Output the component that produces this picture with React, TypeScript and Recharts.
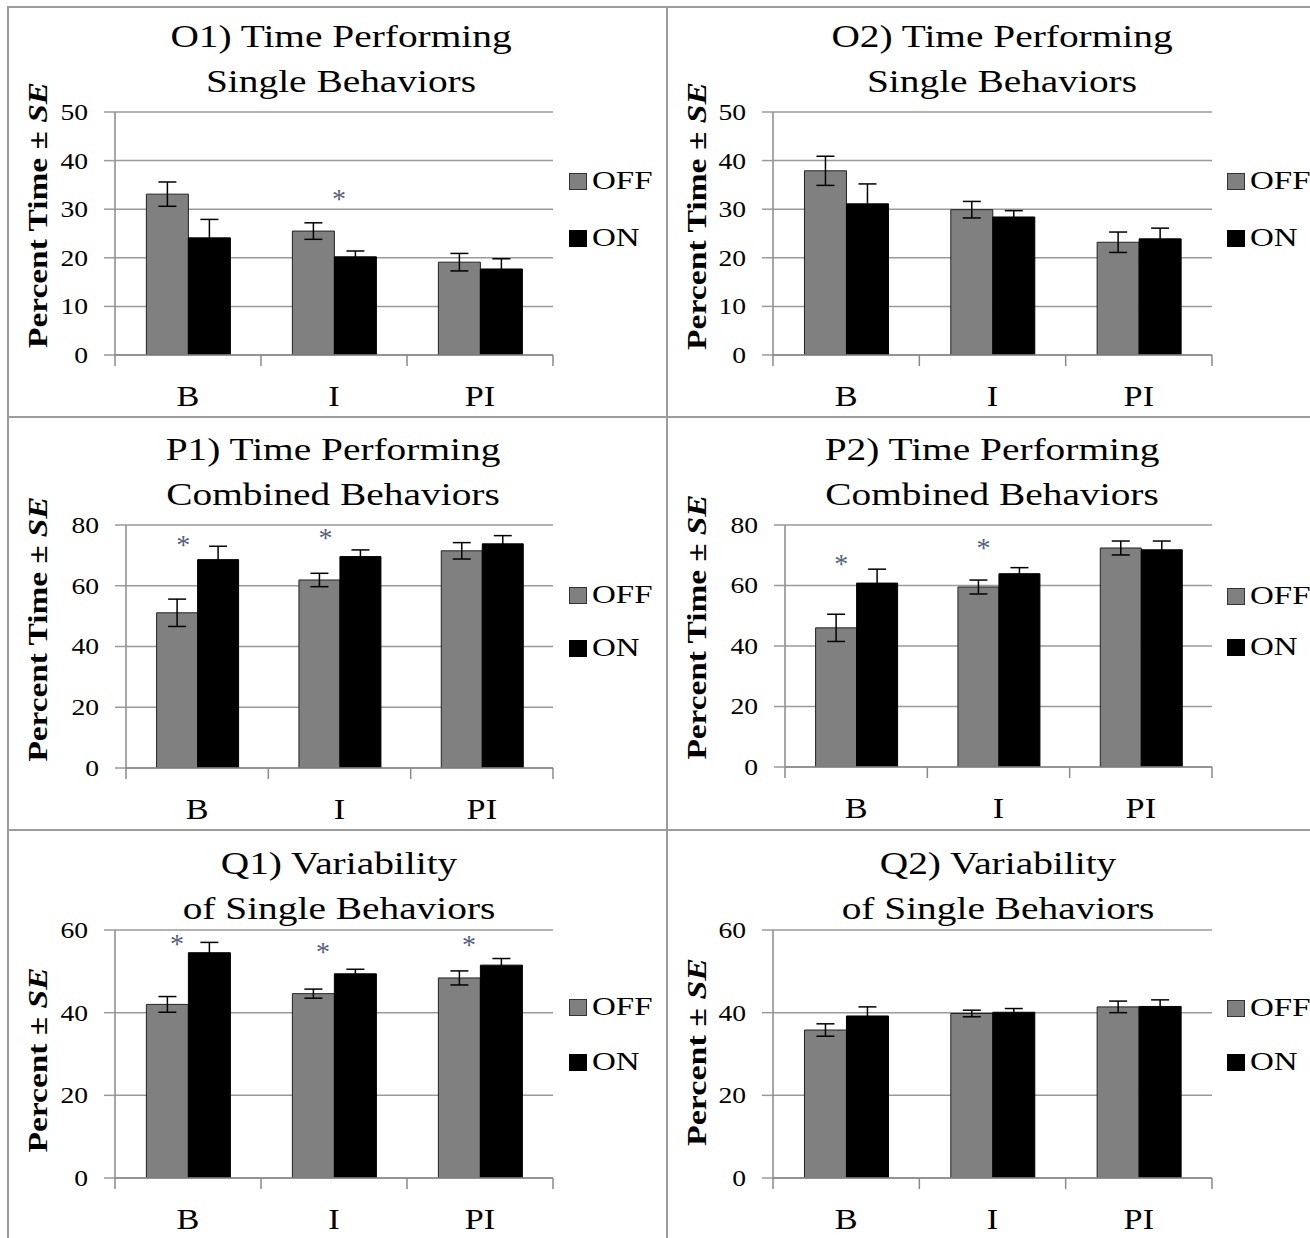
import React from 'react';
import { BarChart, Bar, XAxis, YAxis, CartesianGrid, ErrorBar, Legend, ReferenceDot } from 'recharts';

const FONT = '"Liberation Serif", "Times New Roman", Times, serif';

// ---------- data ----------
const categories = ['B', 'I', 'PI'];
const seriesNames = ['OFF', 'ON'];
const seriesColors = ['#808080', '#000000'];

const o1OffMean = [33.1, 25.5, 19.1];
const o1OffSE = [2.5, 1.7, 1.8];
const o1OnMean = [24.1, 20.2, 17.7];
const o1OnSE = [3.8, 1.2, 2.1];

const o2OffMean = [37.9, 29.9, 23.2];
const o2OffSE = [3.0, 1.7, 2.1];
const o2OnMean = [31.1, 28.4, 23.9];
const o2OnSE = [4.1, 1.3, 2.2];

const p1OffMean = [51.1, 61.9, 71.5];
const p1OffSE = [4.5, 2.2, 2.7];
const p1OnMean = [68.6, 69.6, 73.8];
const p1OnSE = [4.4, 2.2, 2.7];

const p2OffMean = [46.0, 59.5, 72.4];
const p2OffSE = [4.5, 2.3, 2.3];
const p2OnMean = [60.8, 63.9, 71.8];
const p2OnSE = [4.6, 2.0, 2.9];

const q1OffMean = [42.0, 44.6, 48.4];
const q1OffSE = [1.9, 1.1, 1.7];
const q1OnMean = [54.5, 49.4, 51.5];
const q1OnSE = [2.5, 1.1, 1.6];

const q2OffMean = [35.8, 39.8, 41.4];
const q2OffSE = [1.5, 0.8, 1.4];
const q2OnMean = [39.2, 40.1, 41.5];
const q2OnSE = [2.2, 0.9, 1.6];

const o1StarCats = ['I'];
const o1StarY = [32.9];
const p1StarCats = ['B', 'I'];
const p1StarY = [74.7, 77.0];
const p2StarCats = ['B', 'I'];
const p2StarY = [68.5, 73.7];
const q1StarCats = ['B', 'I', 'PI'];
const q1StarY = [57.7, 55.7, 57.3];
const noStarCats: string[] = [];
const noStarY: number[] = [];

const ticks50 = [0, 10, 20, 30, 40, 50];
const ticks80 = [0, 20, 40, 60, 80];
const ticks60 = [0, 20, 40, 60];

const titleO1 = ['O1) Time Performing', 'Single Behaviors'];
const titleO2 = ['O2) Time Performing', 'Single Behaviors'];
const titleP1 = ['P1) Time Performing', 'Combined Behaviors'];
const titleP2 = ['P2) Time Performing', 'Combined Behaviors'];
const titleQ1 = ['Q1) Variability', 'of Single Behaviors'];
const titleQ2 = ['Q2) Variability', 'of Single Behaviors'];

const yLabelTime = 'Percent Time \u00B1 ';
const yLabelPct = 'Percent \u00B1 ';
const yLabelSE = 'SE';

const buildRows = (offM: number[], offS: number[], onM: number[], onS: number[]) =>
  categories.map((c, i) => ({ cat: c, off: offM[i], offErr: offS[i], on: onM[i], onErr: onS[i] }));

// ---------- layout ----------
type Geo = {
  left: number; top: number; w: number; h: number;
  plotLeft: number; plotRight: number; plotTop: number; plotBottom: number;
  titleCx: number; titleBase: number;
  ylx: number; yly: number; ylLen: number;
  legX: number; legY: number; legGap: number; starDx: number;
};

const G: Record<string, Geo> = {
  O1: { left: 10, top: 9, w: 655, h: 406, plotLeft: 115, plotRight: 553, plotTop: 112, plotBottom: 355, titleCx: 341, titleBase: 47, ylx: 37, yly: 215, ylLen: 266, legX: 569, legY: 181, legGap: 57, starDx: 5 },
  O2: { left: 669, top: 9, w: 641, h: 406, plotLeft: 773, plotRight: 1212, plotTop: 112, plotBottom: 355, titleCx: 1002, titleBase: 47, ylx: 696, yly: 216, ylLen: 268, legX: 1227, legY: 181, legGap: 57, starDx: 0 },
  P1: { left: 10, top: 419, w: 655, h: 409, plotLeft: 126, plotRight: 553, plotTop: 525, plotBottom: 768, titleCx: 333, titleBase: 460, ylx: 37, yly: 629, ylLen: 265, legX: 569, legY: 595, legGap: 53, starDx: -14 },
  P2: { left: 669, top: 419, w: 641, h: 409, plotLeft: 785, plotRight: 1212, plotTop: 525, plotBottom: 767, titleCx: 992, titleBase: 460, ylx: 696, yly: 627, ylLen: 265, legX: 1227, legY: 596, legGap: 51, starDx: -15 },
  Q1: { left: 10, top: 832, w: 655, h: 406, plotLeft: 115, plotRight: 553, plotTop: 930, plotBottom: 1178, titleCx: 339, titleBase: 874, ylx: 37, yly: 1060, ylLen: 185, legX: 569, legY: 1007, legGap: 55, starDx: -11 },
  Q2: { left: 669, top: 832, w: 641, h: 406, plotLeft: 773, plotRight: 1212, plotTop: 930, plotBottom: 1178, titleCx: 998, titleBase: 874, ylx: 696, yly: 1052, ylLen: 188, legX: 1227, legY: 1008, legGap: 54, starDx: 0 },
};

const GRID = '#9a9a9a';
const AXIS = '#8a8a8a';
const STAR = '#52607e';

const YTick = (props: any) => {
  const { x, y, payload } = props;
  return (
    <text x={x} y={y + 8} textAnchor="end" fontFamily={FONT} fontSize={23} fill="#000"
      transform={`translate(${x} ${y}) scale(1.2 1) translate(${-x} ${-y})`}>
      {payload.value}
    </text>
  );
};

// category label + category-boundary tick marks (band width taken from the axis itself)
const XTick = (props: any) => {
  const { x, y, payload, width, visibleTicksCount, index } = props;
  const band = Number(width) / Number(visibleTicksCount || 1);
  const ok = Number.isFinite(band);
  return (
    <g>
      {ok && (
        <line x1={x - band / 2} x2={x - band / 2} y1={y} y2={y + 11} stroke={AXIS} strokeWidth={1.5} />
      )}
      {ok && index === visibleTicksCount - 1 && (
        <line x1={x + band / 2} x2={x + band / 2} y1={y} y2={y + 11} stroke={AXIS} strokeWidth={1.5} />
      )}
      <text x={x} y={y + 51} textAnchor="middle" fontFamily={FONT} fontSize={29} fill="#000"
        transform={`translate(${x} ${y}) scale(1.18 1) translate(${-x} ${-y})`}>
        {payload.value}
      </text>
    </g>
  );
};

const YLabel = (props: any) => {
  const { px, py, len, text } = props;
  return (
    <text x={px} y={py} transform={`rotate(-90 ${px} ${py})`} textAnchor="middle"
      fontFamily={FONT} fontSize={28} fontWeight="bold" fill="#000"
      textLength={len} lengthAdjust="spacingAndGlyphs">
      {text}
      <tspan fontStyle="italic">{yLabelSE}</tspan>
    </text>
  );
};

const LegendContent = (props: any) => {
  const { payload, gap } = props;
  return (
    <div>
      {(payload || []).map((entry: any, i: number) => (
        <div key={entry.value} style={{ display: 'flex', alignItems: 'center', height: gap }}>
          <span style={{
            display: 'inline-block', width: 18, height: 17, boxSizing: 'border-box',
            background: entry.color, border: i === 0 ? '1.5px solid #333' : '1px solid #000',
          }} />
          <span style={{
            display: 'inline-block', fontFamily: FONT, fontSize: 26, lineHeight: '26px', marginLeft: 5,
            transform: 'scaleX(1.27)', transformOrigin: 'left center', color: '#000', whiteSpace: 'nowrap',
          }}>{entry.value}</span>
        </div>
      ))}
    </div>
  );
};

type PanelProps = {
  g: Geo; data: any[]; ticks: number[]; title: string[]; yLabel: string;
  starCats: string[]; starY: number[];
};

const Panel = ({ g, data, ticks, title, yLabel, starCats, starY }: PanelProps) => {
  const margin = {
    top: g.plotTop - g.top,
    right: g.left + g.w - g.plotRight,
    bottom: g.top + g.h - g.plotBottom - 1,
    left: 0,
  };
  const yAxisWidth = g.plotLeft - g.left;
  const px = g.ylx + 9.5 - g.left;
  const py = g.yly - g.top;
  return (
    <>
      <div style={{
        position: 'absolute', left: g.titleCx - 300, top: g.titleBase - 33, width: 600,
        textAlign: 'center', fontFamily: FONT, fontSize: 31, lineHeight: '45px',
        transform: 'scaleX(1.27)', color: '#000', whiteSpace: 'nowrap',
      }}>
        {title.map((t) => <div key={t}>{t}</div>)}
      </div>
      <div style={{ position: 'absolute', left: g.left, top: g.top, width: g.w, height: g.h }}>
        <BarChart width={g.w} height={g.h} data={data} margin={margin} barGap={0} barCategoryGap="21.5%">
          <CartesianGrid horizontal vertical={false} stroke={GRID} strokeWidth={1.5} />
          <XAxis dataKey="cat" height={1} tickLine={false} tickSize={0} tickMargin={0}
            axisLine={{ stroke: AXIS, strokeWidth: 1.5 }} tick={<XTick />} interval={0} />
          <YAxis domain={[0, ticks[ticks.length - 1]]} ticks={ticks} interval={0} width={yAxisWidth}
            allowDataOverflow axisLine={{ stroke: AXIS, strokeWidth: 1.5 }}
            tickLine={{ stroke: GRID, strokeWidth: 1.5 }} tickSize={11} tickMargin={16}
            tick={<YTick />}
            label={<YLabel px={px} py={py} len={g.ylLen} text={yLabel} />} />
          <Bar dataKey="off" name={seriesNames[0]} fill={seriesColors[0]} stroke="#222" strokeWidth={1}
            isAnimationActive={false}>
            <ErrorBar dataKey="offErr" width={9} stroke="#000" strokeWidth={1.5} direction="y" />
          </Bar>
          <Bar dataKey="on" name={seriesNames[1]} fill={seriesColors[1]} stroke="#000" strokeWidth={1}
            isAnimationActive={false}>
            <ErrorBar dataKey="onErr" width={9} stroke="#000" strokeWidth={1.5} direction="y" />
          </Bar>
          {starCats.map((c, i) => (
            <ReferenceDot key={c} x={c} y={starY[i]} r={0} ifOverflow="visible"
              shape={(p: any) => (
                <text x={p.cx + g.starDx} y={p.cy + 13} textAnchor="middle" fontFamily={FONT}
                  fontSize={28} fill={STAR}>*</text>
              )} />
          ))}
          <Legend layout="vertical" align="center" verticalAlign="middle"
            wrapperStyle={{ left: g.legX - g.left, top: g.legY - g.top - g.legGap / 2, width: 140, height: 'auto' }}
            content={<LegendContent gap={g.legGap} />} />
        </BarChart>
      </div>
    </>
  );
};

const line = (style: React.CSSProperties) => (
  <div style={{ position: 'absolute', background: '#9c9c9c', ...style }} />
);

export default function App() {
  return (
    <div style={{ position: 'absolute', left: 0, top: 0, width: 1310, height: 1238, overflow: 'hidden', background: '#fff' }}>
      {line({ left: 7, top: 6, width: 1303, height: 2 })}
      {line({ left: 7, top: 6, width: 2, height: 1232 })}
      {line({ left: 666, top: 6, width: 2, height: 1232 })}
      {line({ left: 7, top: 416, width: 1303, height: 2 })}
      {line({ left: 7, top: 829, width: 1303, height: 2 })}
      <Panel g={G.O1} data={buildRows(o1OffMean, o1OffSE, o1OnMean, o1OnSE)} ticks={ticks50} title={titleO1} yLabel={yLabelTime} starCats={o1StarCats} starY={o1StarY} />
      <Panel g={G.O2} data={buildRows(o2OffMean, o2OffSE, o2OnMean, o2OnSE)} ticks={ticks50} title={titleO2} yLabel={yLabelTime} starCats={noStarCats} starY={noStarY} />
      <Panel g={G.P1} data={buildRows(p1OffMean, p1OffSE, p1OnMean, p1OnSE)} ticks={ticks80} title={titleP1} yLabel={yLabelTime} starCats={p1StarCats} starY={p1StarY} />
      <Panel g={G.P2} data={buildRows(p2OffMean, p2OffSE, p2OnMean, p2OnSE)} ticks={ticks80} title={titleP2} yLabel={yLabelTime} starCats={p2StarCats} starY={p2StarY} />
      <Panel g={G.Q1} data={buildRows(q1OffMean, q1OffSE, q1OnMean, q1OnSE)} ticks={ticks60} title={titleQ1} yLabel={yLabelPct} starCats={q1StarCats} starY={q1StarY} />
      <Panel g={G.Q2} data={buildRows(q2OffMean, q2OffSE, q2OnMean, q2OnSE)} ticks={ticks60} title={titleQ2} yLabel={yLabelPct} starCats={noStarCats} starY={noStarY} />
    </div>
  );
}
